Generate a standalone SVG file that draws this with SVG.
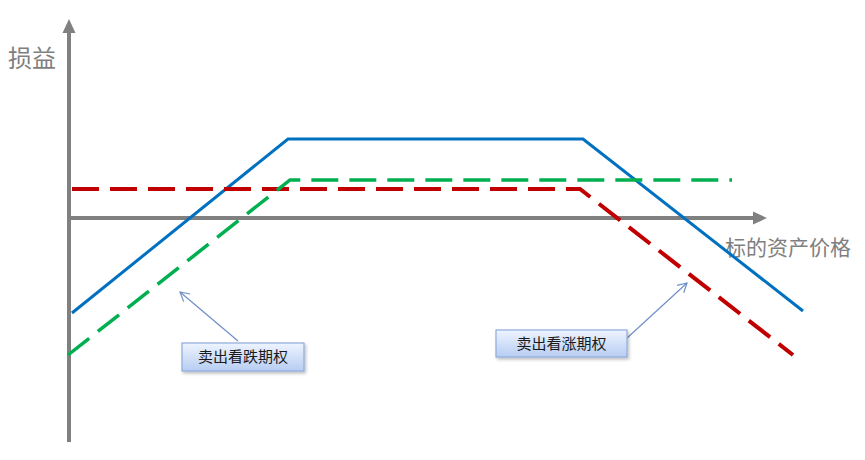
<svg xmlns="http://www.w3.org/2000/svg" width="865" height="460" viewBox="0 0 865 460">
<style>
.axis{stroke:#808080;stroke-width:4;fill:none}
.lbl{font-family:"Noto Sans CJK SC","Noto Sans",sans-serif;fill:#7f7f7f;font-size:21px}
.big{font-size:24px}
.box{fill:url(#bg);stroke:#8faadc;stroke-width:1.2}
.btxt{font-family:"Noto Sans CJK SC","Noto Sans",sans-serif;fill:#1a1a1a;font-size:15px;text-anchor:middle}
.call{stroke:#6f8fc8;stroke-width:1.2;fill:none;marker-end:url(#open)}
</style>
<defs>
<linearGradient id="bg" x1="0" y1="0" x2="0" y2="1">
<stop offset="0" stop-color="#eef4ff"/>
<stop offset="1" stop-color="#b7cdf2"/>
</linearGradient>
<marker id="open" markerWidth="12" markerHeight="12" refX="10" refY="6" orient="auto" markerUnits="userSpaceOnUse">
<path d="M1,1 L10,6 L1,11" fill="none" stroke="#6f8fc8" stroke-width="1.2"/>
</marker>
<filter id="sh" x="-10%" y="-20%" width="130%" height="160%">
<feDropShadow dx="1.5" dy="2" stdDeviation="1.5" flood-color="#000" flood-opacity="0.25"/>
</filter>
</defs>
<g id="axes">
<line class="axis" x1="69" y1="442" x2="69" y2="32"/>
<polygon points="69,19 62.5,33 75.5,33" fill="#808080"/>
<line class="axis" x1="69" y1="218" x2="755" y2="218"/>
<polygon points="767,218 753,211.5 753,224.5" fill="#808080"/>
<text class="lbl big" x="8" y="67">损益</text>
<text class="lbl" x="725" y="255">标的资产价格</text>
</g>
<g id="connectors">
<polyline points="72,313 288,139 583,139 803,311" fill="none" stroke="#0070c0" stroke-width="3"/>
<polyline points="72,189 580,189 793,355" fill="none" stroke="#c00000" stroke-width="4" stroke-dasharray="27,11"/>
<polyline points="68,355 290,180 732,180" fill="none" stroke="#00b050" stroke-width="3.5" stroke-dasharray="27,11"/>
<line class="call" x1="238" y1="341" x2="180" y2="292"/>
<line class="call" x1="626" y1="339" x2="687" y2="283"/>
</g>
<g id="put">
<rect class="box" x="182" y="343" width="122" height="28" filter="url(#sh)"/>
<text class="btxt" x="243" y="362">卖出看跌期权</text>
</g>
<g id="call">
<rect class="box" x="496" y="330" width="131" height="27" filter="url(#sh)"/>
<text class="btxt" x="561.5" y="349">卖出看涨期权</text>
</g>
</svg>
